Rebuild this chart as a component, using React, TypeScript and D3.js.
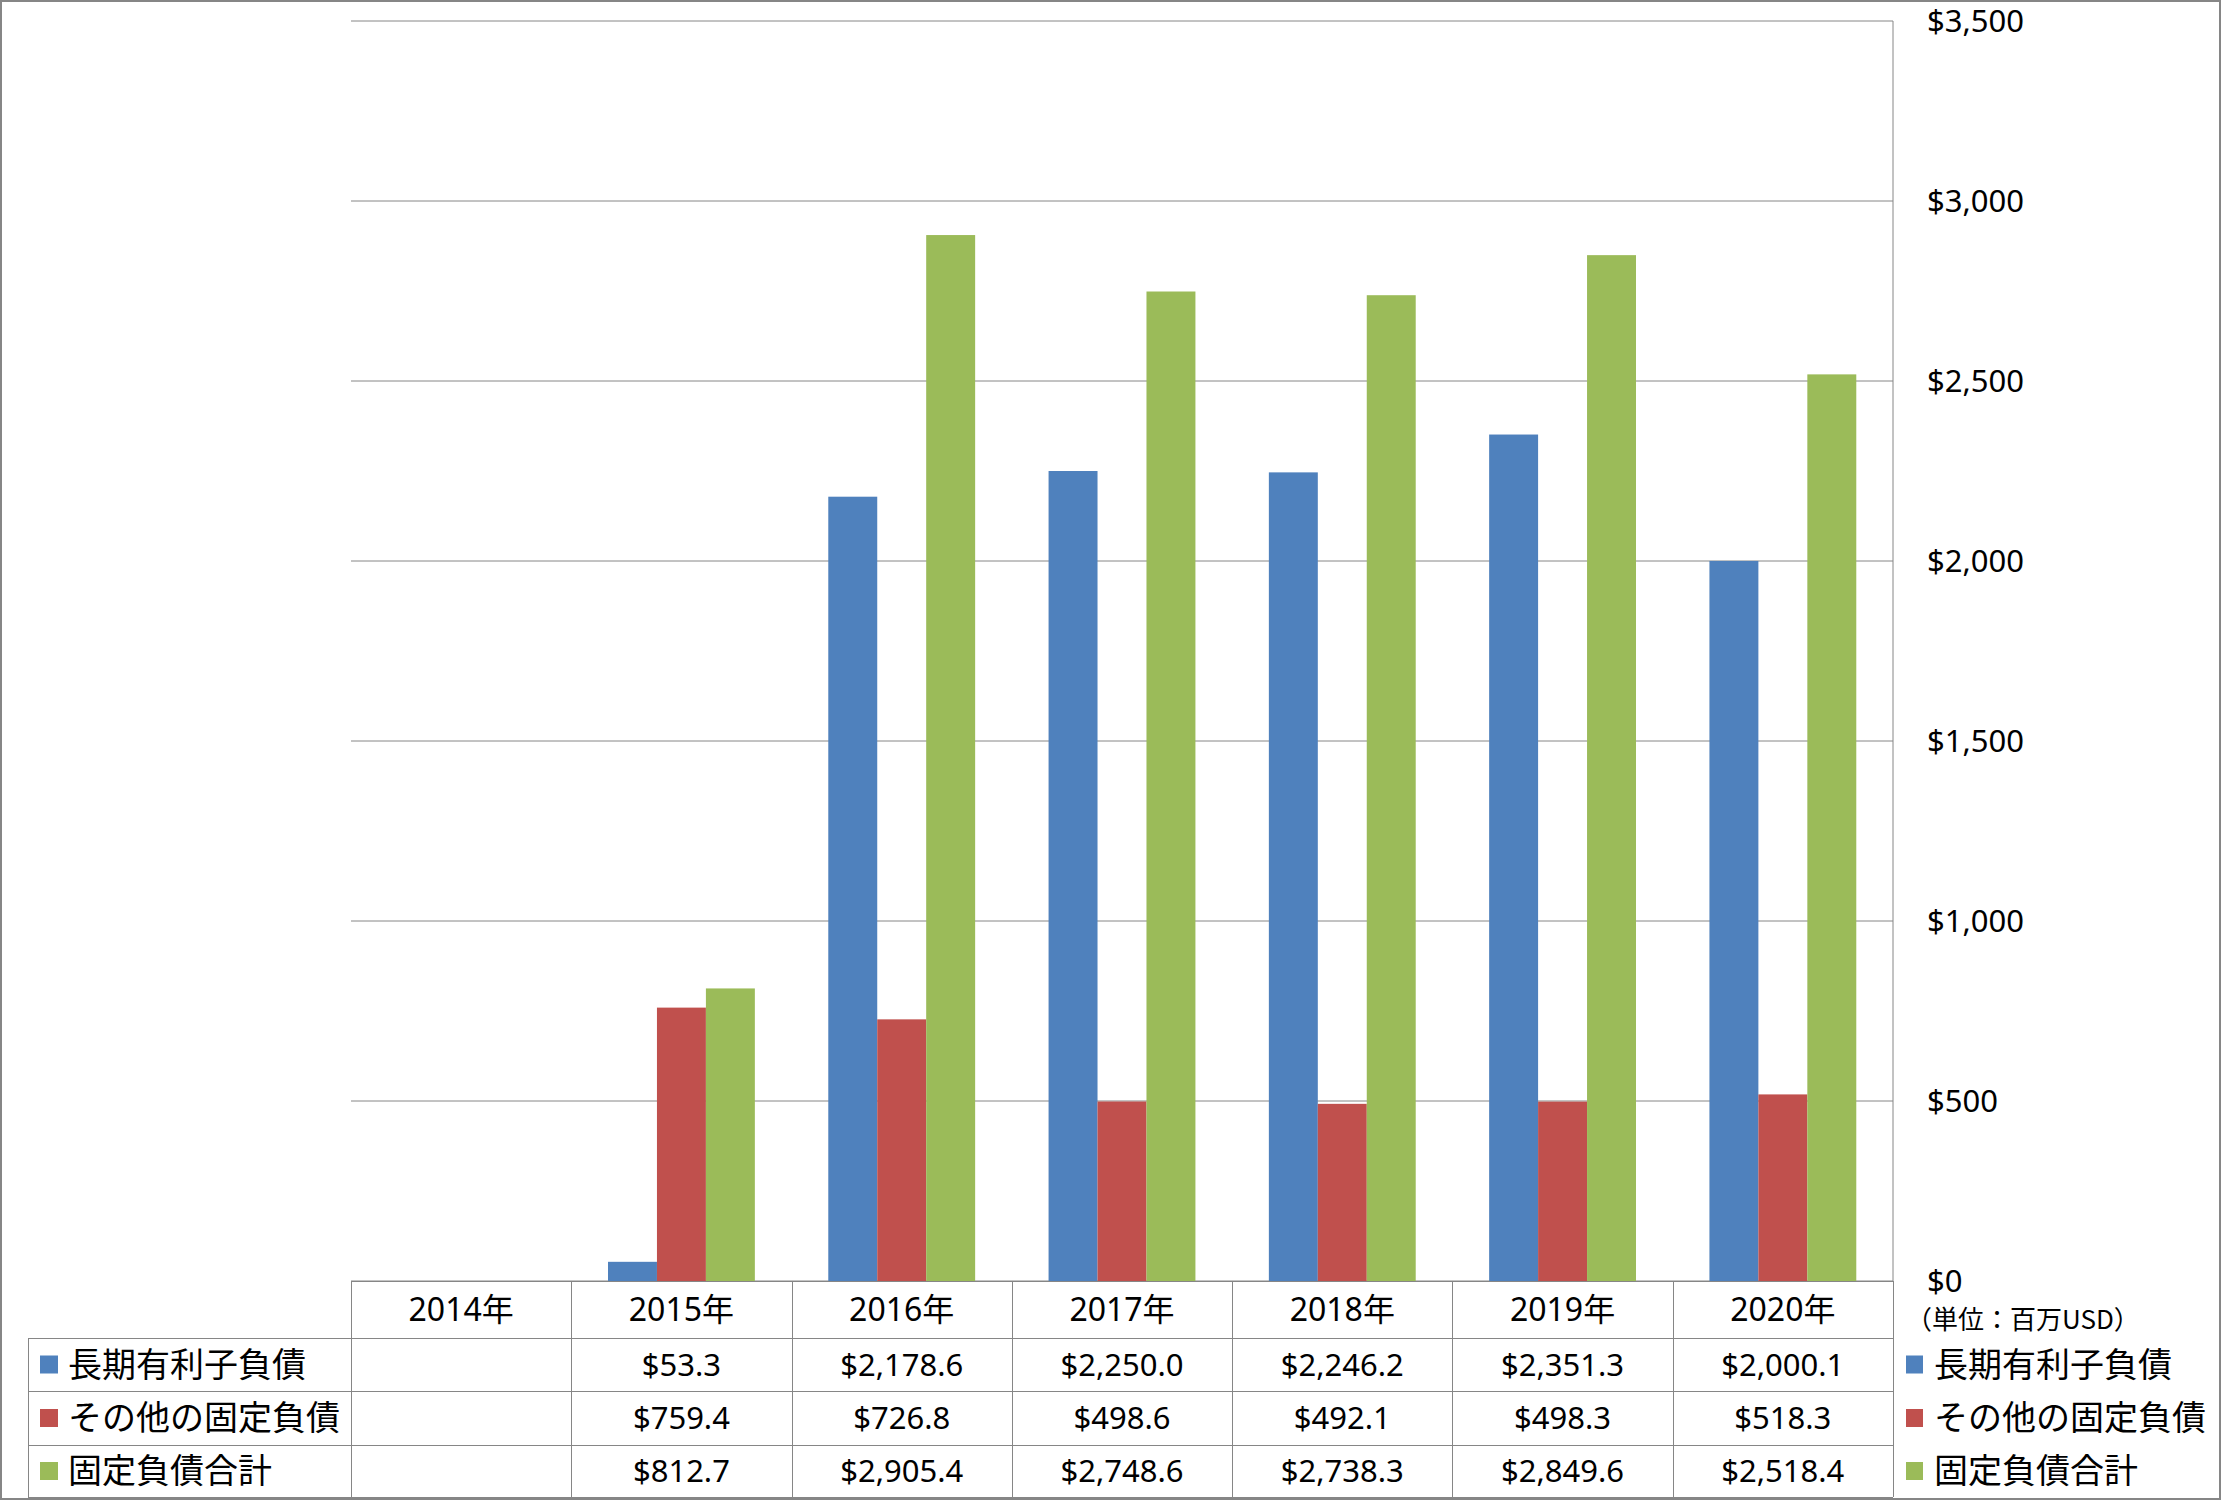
import React from "react";
import * as d3 from "d3";

const categories = ["2014年", "2015年", "2016年", "2017年", "2018年", "2019年", "2020年"];
const seriesNames = ["長期有利子負債", "その他の固定負債", "固定負債合計"];
const longTermDebt: (number | null)[] = [null, 53.3, 2178.6, 2250.0, 2246.2, 2351.3, 2000.1];
const otherFixed: (number | null)[] = [null, 759.4, 726.8, 498.6, 492.1, 498.3, 518.3];
const totalFixed: (number | null)[] = [null, 812.7, 2905.4, 2748.6, 2738.3, 2849.6, 2518.4];
const yTicks = [0, 500, 1000, 1500, 2000, 2500, 3000, 3500];
const unitLabel = "（単位：百万USD）";
const colors = ["#4F81BD", "#C0504D", "#9BBB59"];

const W = 2221;
const H = 1500;
const plotL = 351;
const plotR = 1893;
const plotT = 21;
const plotB = 1281;
const rowLines = [1281, 1338, 1391, 1445, 1497];
const tableLeft = 28;
const grid = "#868686";
const numFont = "'Noto Sans', 'Noto Sans CJK JP', sans-serif";
const cjkFont = "'Noto Sans CJK JP', sans-serif";

export default function App() {
  const series = [longTermDebt, otherFixed, totalFixed];
  const x0 = d3.scaleBand<string>().domain(categories).range([plotL, plotR]).padding(0);
  const x1 = d3
    .scaleBand<number>()
    .domain([0, 1, 2])
    .range([0, x0.bandwidth()])
    .paddingInner(0)
    .paddingOuter(0.75);
  const y = d3.scaleLinear().domain([0, 3500]).range([plotB, plotT]);
  const fmtAxis = (v: number) => "$" + d3.format(",")(v);
  const fmtVal = (v: number) => "$" + d3.format(",.1f")(v);

  return (
    <svg
      width={W}
      height={H}
      style={{ position: "absolute", left: 0, top: 0, display: "block", background: "#fff" }}
    >
      <rect x={0} y={0} width={W} height={H} fill="#fff" />
      {yTicks.map((t) => (
        <line key={"g" + t} x1={plotL} x2={plotR} y1={y(t)} y2={y(t)} stroke={grid} strokeWidth={1} />
      ))}
      <line x1={plotR} x2={plotR} y1={plotT} y2={plotB} stroke={grid} strokeWidth={1} />
      {series.map((s, si) =>
        s.map((v, ci) =>
          v == null ? null : (
            <rect
              key={`b${si}-${ci}`}
              x={(x0(categories[ci]) as number) + (x1(si) as number)}
              width={x1.bandwidth()}
              y={y(v)}
              height={y(0) - y(v)}
              fill={colors[si]}
            />
          )
        )
      )}
      {yTicks.map((t) => (
        <text
          key={"t" + t}
          x={1927}
          y={y(t)}
          dy="0.36em"
          fontFamily={numFont}
          fontSize={31}
          fill="#000"
        >
          {fmtAxis(t)}
        </text>
      ))}
      <text x={1906} y={1320} dy="0.36em" fontFamily={cjkFont} fontSize={26} fill="#000">
        {unitLabel}
      </text>
      <g stroke={grid} strokeWidth={1} shapeRendering="crispEdges">
        <line x1={plotL} x2={plotR} y1={rowLines[0] + 0.5} y2={rowLines[0] + 0.5} />
        {rowLines.slice(1).map((ry, i) => (
          <line key={"r" + i} x1={tableLeft} x2={plotR} y1={ry + 0.5} y2={ry + 0.5} />
        ))}
        <line x1={tableLeft + 0.5} x2={tableLeft + 0.5} y1={rowLines[1]} y2={rowLines[4]} />
        {categories.map((c) => (
          <line
            key={"v" + c}
            x1={(x0(c) as number) + 0.5}
            x2={(x0(c) as number) + 0.5}
            y1={rowLines[0]}
            y2={rowLines[4]}
          />
        ))}
        <line x1={plotR + 0.5} x2={plotR + 0.5} y1={rowLines[0]} y2={rowLines[4]} />
      </g>
      {categories.map((c) => (
        <text
          key={"c" + c}
          x={(x0(c) as number) + x0.bandwidth() / 2}
          y={(rowLines[0] + rowLines[1]) / 2}
          dy="0.36em"
          textAnchor="middle"
          fontFamily={numFont}
          fontSize={32}
          fill="#000"
        >
          {c}
        </text>
      ))}
      {series.map((s, si) => {
        const cy = (rowLines[si + 1] + rowLines[si + 2]) / 2;
        return (
          <g key={"row" + si}>
            <rect x={40} y={cy - 9} width={18} height={18} fill={colors[si]} />
            <text x={68} y={cy} dy="0.36em" fontFamily={cjkFont} fontSize={34} fill="#000">
              {seriesNames[si]}
            </text>
            {s.map((v, ci) =>
              v == null ? null : (
                <text
                  key={`v${si}-${ci}`}
                  x={(x0(categories[ci]) as number) + x0.bandwidth() / 2}
                  y={cy}
                  dy="0.36em"
                  textAnchor="middle"
                  fontFamily={numFont}
                  fontSize={31}
                  fill="#000"
                >
                  {fmtVal(v)}
                </text>
              )
            )}
            <rect x={1906} y={cy - 9} width={17} height={18} fill={colors[si]} />
            <text x={1934} y={cy} dy="0.36em" fontFamily={cjkFont} fontSize={34} fill="#000">
              {seriesNames[si]}
            </text>
          </g>
        );
      })}
      <rect x={1} y={1} width={W - 2} height={H - 2} fill="none" stroke={grid} strokeWidth={2} />
    </svg>
  );
}
